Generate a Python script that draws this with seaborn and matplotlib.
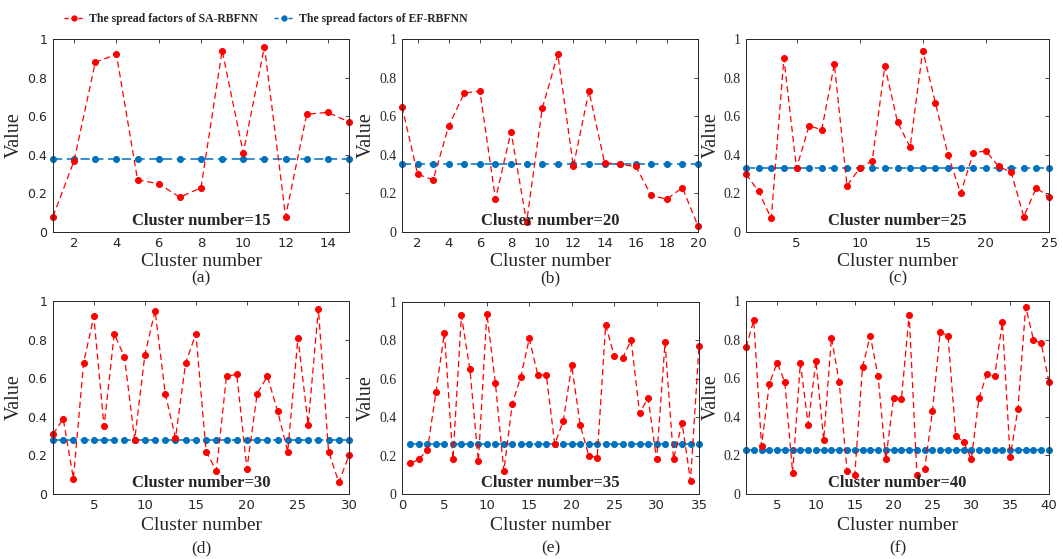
import numpy as np
import pandas as pd
import matplotlib
matplotlib.use("Agg")
import matplotlib.pyplot as plt
import seaborn as sns
from matplotlib.lines import Line2D

# spread factors
sa_15 = [0.08, 0.37, 0.88, 0.92, 0.27, 0.25, 0.18, 0.23, 0.94, 0.41, 0.96, 0.08, 0.61, 0.62, 0.57]
sa_20 = [0.65, 0.30, 0.27, 0.55, 0.72, 0.73, 0.17, 0.52, 0.05, 0.64, 0.92, 0.34, 0.73, 0.36, 0.35,
         0.34, 0.19, 0.17, 0.23, 0.03]
sa_25 = [0.30, 0.21, 0.07, 0.90, 0.33, 0.55, 0.53, 0.87, 0.24, 0.33, 0.37, 0.86, 0.57, 0.44, 0.94,
         0.67, 0.40, 0.20, 0.41, 0.42, 0.34, 0.31, 0.08, 0.23, 0.18]
sa_30 = [0.31, 0.39, 0.08, 0.68, 0.92, 0.35, 0.83, 0.71, 0.28, 0.72, 0.95, 0.52, 0.29, 0.68, 0.83,
         0.22, 0.12, 0.61, 0.62, 0.13, 0.52, 0.61, 0.43, 0.22, 0.81, 0.36, 0.96, 0.22, 0.06, 0.20]
sa_35 = [0.16, 0.18, 0.23, 0.53, 0.84, 0.18, 0.93, 0.65, 0.17, 0.94, 0.58, 0.12, 0.47, 0.61, 0.81,
         0.62, 0.62, 0.26, 0.38, 0.67, 0.36, 0.20, 0.19, 0.88, 0.72, 0.71, 0.80, 0.42, 0.50, 0.18,
         0.79, 0.18, 0.37, 0.07, 0.77]
sa_40 = [0.76, 0.90, 0.25, 0.57, 0.68, 0.58, 0.11, 0.68, 0.36, 0.69, 0.28, 0.81, 0.58, 0.12, 0.10,
         0.66, 0.82, 0.61, 0.18, 0.50, 0.49, 0.93, 0.10, 0.13, 0.43, 0.84, 0.82, 0.30, 0.27, 0.18,
         0.50, 0.62, 0.61, 0.89, 0.19, 0.44, 0.97, 0.80, 0.78, 0.58]
ef_values = [0.38, 0.35, 0.33, 0.28, 0.26, 0.23]
cluster_counts = [15, 20, 25, 30, 35, 40]
panel_labels = ['(a)', '(b)', '(c)', '(d)', '(e)', '(f)']
x_ticks = [[2, 4, 6, 8, 10, 12, 14],
           [2, 4, 6, 8, 10, 12, 14, 16, 18, 20],
           [5, 10, 15, 20, 25],
           [5, 10, 15, 20, 25, 30],
           [0, 5, 10, 15, 20, 25, 30, 35],
           [5, 10, 15, 20, 25, 30, 35, 40]]
y_ticks = [0, 0.2, 0.4, 0.6, 0.8, 1]
y_tick_labels = ['0', '0.2', '0.4', '0.6', '0.8', '1']
sa_series = [sa_15, sa_20, sa_25, sa_30, sa_35, sa_40]

sns.set_style("white")
serif = 'Liberation Serif'
sans = 'DejaVu Sans'
red = '#ff0000'
blue = '#0072BD'

fig = plt.figure(figsize=(10.63, 5.59), dpi=100)
W, H = 1063, 559
# axes boxes in pixels: left, right, top, bottom
boxes = [(53, 349, 39, 232), (402, 698, 39, 232), (746, 1049, 39, 232),
         (53, 349, 301, 494), (402, 699, 302, 494), (746, 1049, 301, 494)]
# y tick font per panel (the original mixes them)
ytick_fonts = [sans, serif, serif, sans, serif, serif]
# px from the left spine to the right edge of the "Value" label
ylabel_offsets = [29, 26, 25, 29, 26, 25]
# px below the axes for the x label centre and the panel letter centre
xlabel_drop = [29, 29, 29, 31, 31, 31]
panel_drop = [46, 46, 46, 54, 54, 54]

for i, (l, r, t, b) in enumerate(boxes):
    ax = fig.add_axes([l / W, 1 - b / H, (r - l) / W, (b - t) / H])
    n = cluster_counts[i]
    hgt = b - t
    df = pd.DataFrame({'cluster': np.arange(1, n + 1),
                       'sa': sa_series[i],
                       'ef': [ef_values[i]] * n})
    sns.lineplot(data=df, x='cluster', y='ef', ax=ax, color=blue, linestyle=(0, (6, 3)),
                 linewidth=1.1, marker='o', markersize=4.3, markeredgecolor=blue, clip_on=False)
    sns.lineplot(data=df, x='cluster', y='sa', ax=ax, color=red, linestyle=(0, (5, 3)),
                 linewidth=0.9, marker='o', markersize=4.3, markeredgecolor=red, clip_on=False)
    ax.set_xlim(0 if n == 35 else 1, n)
    ax.set_ylim(0, 1)
    ax.set_xticks(x_ticks[i])
    ax.set_yticks(y_ticks)
    ax.set_yticklabels(y_tick_labels)
    for lab in ax.get_xticklabels():
        lab.set_fontfamily(sans)
        lab.set_fontsize(9.5)
    for lab in ax.get_yticklabels():
        lab.set_fontfamily(ytick_fonts[i])
        lab.set_fontsize(10 if ytick_fonts[i] == serif else 9)
    ax.tick_params(axis='y', pad=4)
    ax.tick_params(direction='in', top=True, right=True, length=3, width=0.6,
                   colors='#262626')
    for s in ax.spines.values():
        s.set_color('#262626')
        s.set_linewidth(0.7)
    ax.set_xlabel('')
    ax.text(0.5, -xlabel_drop[i] / hgt, 'Cluster number', transform=ax.transAxes,
            ha='center', va='center', fontfamily=serif, fontsize=14)
    ax.set_ylabel('Value', fontfamily=serif, fontsize=14.5)
    ax.yaxis.set_label_coords(-ylabel_offsets[i] / (r - l), 0.5)
    ax.text(0.5, 0.057, f'Cluster number={n}', transform=ax.transAxes, ha='center', va='center',
            fontfamily=serif, fontweight='bold', fontsize=12)
    ax.text(0.5, -panel_drop[i] / hgt, panel_labels[i], transform=ax.transAxes,
            ha='center', va='center', fontfamily=serif, fontsize=12.5)
    ax.grid(False)

handles = [Line2D([], [], color=red, linestyle=(0, (3, 2)), linewidth=1, marker='o', markersize=3.5),
           Line2D([], [], color=blue, linestyle=(0, (3, 2)), linewidth=1, marker='o', markersize=3.5)]
fig.legend(handles, ['The spread factors of SA-RBFNN', 'The spread factors of EF-RBFNN'],
           loc='center', bbox_to_anchor=(266 / W, 1 - 19 / H), ncol=2, frameon=False,
           prop={'family': serif, 'weight': 'bold', 'size': 8.5}, handlelength=1.6,
           columnspacing=1.4, handletextpad=0.5)

fig.savefig('out.png', dpi=100)
